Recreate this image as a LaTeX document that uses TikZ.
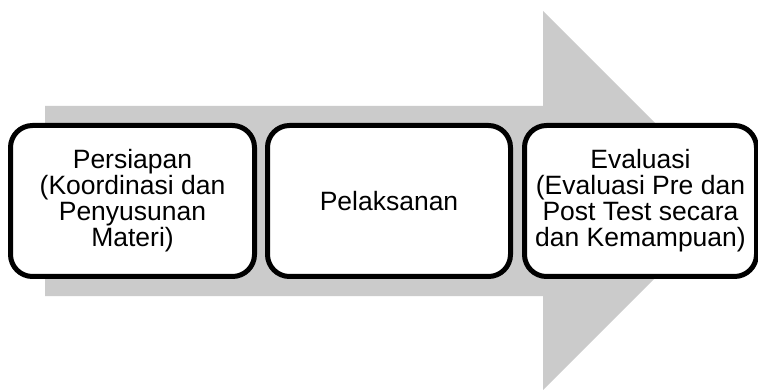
\documentclass[tikz,border=0pt]{standalone}
\usepackage{fontspec}
\setmainfont{Liberation Sans}
\definecolor{arrowgray}{RGB}{203,203,203}
\tikzset{
  stage/.style={draw, line width=5pt, rounded corners=22pt, fill=white, align=center,
    minimum height=151pt, inner sep=0pt, font=\fontsize{26.5}{26}\selectfont},
}
\begin{document}
\begin{tikzpicture}[x=1pt,y=-1pt]
\useasboundingbox (0,0) rectangle (758,390);

% big arrow behind the boxes
\fill[arrowgray] (45,106) -- (543,106) -- (543,11) -- (732.5,200.5) -- (543,390) -- (543,296) -- (45,296) -- cycle;

\node[stage, minimum width=244pt] (prep) at (132.5,201) {Persiapan\\(Koordinasi dan\\Penyusunan\\Materi)};
\node[stage, minimum width=243pt] (exec) at (389,201) {Pelaksanan};
\node[stage, minimum width=232pt] (eval) at (640.5,201) {Evaluasi\\(Evaluasi Pre dan\\Post Test secara\\dan Kemampuan)};

\end{tikzpicture}
\end{document}
